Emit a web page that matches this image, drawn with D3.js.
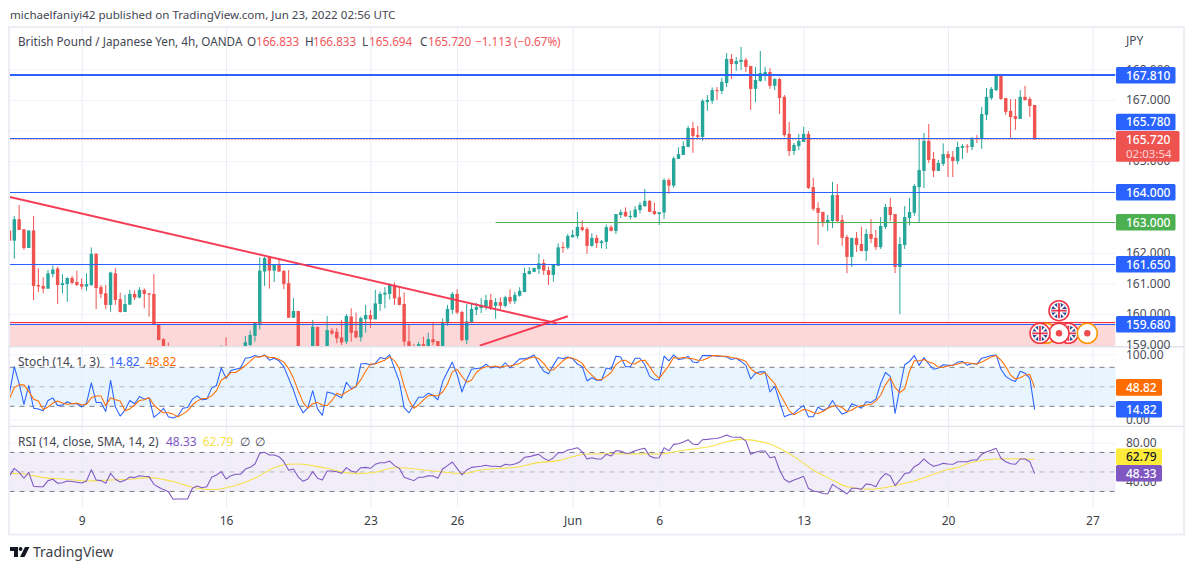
<!DOCTYPE html>
<html>
<head>
<meta charset="utf-8">
<script src="https://cdn.jsdelivr.net/npm/d3@7"></script>
<style>
  html, body { margin: 0; padding: 0; background: #fff; }
  svg { display: block; }
  text { font-family: "Noto Sans", "Liberation Sans", sans-serif; }
</style>
</head>
<body>
<svg id="chart" width="1194" height="570"></svg>
<script>
// first bar number, the bars run on from it one by one
var firstBar = -1;

var opens = [
  162.73,162.40,163.10,162.77,162.16,162.73,160.95,160.92,160.83,161.31,
  161.49,160.95,160.98,161.18,161.05,160.98,160.90,160.95,161.97,160.88,
  160.68,160.30,161.33,160.49,160.07,160.31,160.66,160.54,160.79,160.68,
  160.66,159.67,159.18,158.85,158.60,158.45,158.35,158.55,158.65,158.50,
  158.60,158.70,158.60,158.75,158.80,158.90,158.70,158.85,158.80,158.72,
  158.99,159.29,159.68,161.39,161.86,161.42,161.63,161.41,161.01,159.88,
  160.10,158.75,158.30,158.80,159.58,158.70,158.70,159.46,159.42,159.24,
  159.10,159.92,159.45,159.24,159.83,159.97,159.83,160.33,160.64,160.66,
  160.95,160.55,160.33,159.11,158.90,158.80,159.02,158.90,159.18,159.12,
  158.85,159.70,160.14,160.66,160.07,159.15,159.74,160.14,160.20,160.24,
  160.46,160.27,160.39,160.27,160.56,160.42,160.60,160.72,161.31,161.38,
  161.47,161.67,161.43,161.28,161.58,162.19,162.17,162.51,162.55,162.84,
  162.78,162.23,162.49,162.32,162.36,162.84,162.72,163.24,163.34,163.17,
  163.17,163.40,163.53,163.70,163.37,163.27,163.32,164.38,164.20,165.07,
  165.20,165.46,166.08,165.85,165.79,166.93,166.97,167.32,167.29,167.55,
  168.34,168.17,168.24,168.31,168.11,167.36,167.62,167.81,167.91,167.46,
  167.68,167.10,165.89,165.33,165.49,165.63,165.89,164.15,163.47,163.34,
  163.01,163.04,163.89,163.08,162.52,161.87,162.49,162.29,162.06,162.62,
  162.49,162.19,162.85,163.50,163.27,161.54,162.26,163.14,163.31,164.15,
  164.68,165.66,165.07,164.68,164.91,165.23,165.14,165.00,165.43,165.49,
  165.46,165.76,165.72,166.51,167.06,167.32,167.81,167.06,166.64,166.47,
  166.38,167.10,167.03,166.833
];
var highs = [
  162.73,163.21,163.57,162.78,162.75,163.21,161.50,161.20,161.44,161.59,
  161.55,161.31,161.20,161.25,161.42,161.17,161.33,162.18,161.99,160.95,
  160.95,161.39,161.50,160.70,160.63,160.79,160.77,160.88,160.84,160.68,
  161.31,159.68,159.21,159.07,158.85,158.70,158.70,158.85,158.90,158.85,
  158.85,158.90,158.85,158.90,158.99,159.24,158.90,158.92,158.92,159.29,
  159.46,159.72,161.85,161.88,161.88,161.64,161.82,161.44,161.44,160.52,
  160.10,158.90,158.90,159.81,159.59,158.90,159.94,159.54,159.54,159.81,
  160.00,160.19,160.05,159.92,160.30,160.14,160.79,160.73,160.88,161.01,
  161.03,160.90,160.71,159.65,159.03,159.09,159.26,159.39,159.72,159.12,
  159.86,160.30,160.72,160.81,160.11,160.33,160.33,160.37,160.52,160.63,
  160.66,160.52,160.55,160.60,160.81,160.73,160.88,161.51,161.53,161.51,
  161.97,161.80,161.55,161.64,162.31,162.35,162.62,162.75,163.34,163.07,
  162.84,162.64,162.59,162.42,162.93,162.91,163.27,163.42,163.49,163.38,
  163.53,163.66,164.09,163.73,163.64,163.33,164.44,164.44,165.15,165.45,
  165.65,166.15,166.28,166.15,167.02,167.16,167.41,167.42,167.72,168.53,
  168.50,168.40,168.73,168.37,168.11,168.08,168.60,168.08,168.04,167.72,
  167.72,167.16,166.28,165.59,165.89,166.12,165.98,164.45,163.66,163.34,
  163.24,164.32,164.25,163.24,162.59,162.49,162.68,162.85,162.78,163.11,
  162.75,163.17,163.60,163.80,163.27,162.52,163.53,163.80,164.25,165.72,
  165.92,166.21,165.30,165.04,165.58,165.33,165.33,165.63,165.56,165.56,
  165.79,165.85,166.77,167.39,167.42,167.83,167.85,167.06,167.03,167.03,
  167.32,167.46,167.10,166.833
];
var lows = [
  162.40,161.81,162.75,162.10,162.16,160.46,160.72,160.68,160.83,161.20,
  160.33,160.68,160.40,160.97,160.92,160.81,160.76,160.92,160.16,160.52,
  160.16,160.08,160.30,160.05,160.07,160.30,160.46,160.52,160.19,159.92,
  159.64,159.15,158.75,158.50,158.30,158.20,158.20,158.40,158.40,158.30,
  158.40,158.50,158.40,158.50,158.60,158.60,158.50,158.60,158.50,158.60,
  158.96,159.10,159.50,160.92,160.83,161.05,161.38,160.81,159.88,159.88,
  158.70,158.20,158.10,158.60,158.50,158.30,158.60,159.32,159.05,158.99,
  159.02,159.10,159.21,159.10,159.39,159.54,159.83,160.11,160.19,160.48,
  160.30,160.29,158.90,158.80,158.60,158.70,158.80,158.80,158.98,158.80,
  158.80,159.62,160.00,160.00,159.11,159.02,159.70,159.97,160.03,160.14,
  160.14,159.85,160.16,160.22,160.33,160.33,160.57,160.72,161.29,161.38,
  161.31,161.28,160.95,161.06,161.57,162.01,162.12,162.51,162.47,162.70,
  161.97,162.20,162.16,162.15,162.13,162.70,162.62,163.14,163.19,163.09,
  163.14,163.29,163.50,163.33,163.24,162.91,163.11,163.93,164.13,165.07,
  165.20,165.46,165.27,165.72,165.66,166.64,166.87,167.00,167.19,167.42,
  167.68,167.95,167.98,167.91,166.67,166.93,167.59,167.62,167.36,167.32,
  166.54,165.79,165.17,165.20,165.36,165.63,164.09,163.37,162.26,162.85,
  162.72,162.81,163.01,162.23,161.34,161.54,162.03,162.06,161.74,162.32,
  162.10,162.13,162.78,163.04,161.34,160.00,162.13,162.91,163.21,163.01,
  164.12,164.94,164.48,164.68,164.84,164.48,164.48,164.91,165.07,165.27,
  165.36,165.59,165.40,166.34,167.00,167.29,167.00,166.51,165.76,166.02,
  166.38,166.97,166.44,165.694
];
var closes = [
  162.40,163.10,162.75,162.16,162.73,160.92,160.90,160.83,161.33,161.46,
  160.95,161.01,161.18,161.02,160.95,160.90,160.98,161.97,160.85,160.66,
  160.30,161.36,160.46,160.07,160.33,160.66,160.54,160.79,160.66,160.64,
  159.67,159.15,158.80,158.60,158.45,158.35,158.55,158.65,158.50,158.60,
  158.70,158.60,158.75,158.80,158.90,158.70,158.85,158.80,158.72,159.08,
  159.32,159.72,161.42,161.83,161.42,161.61,161.39,160.98,159.88,160.10,
  158.75,158.30,158.80,159.59,158.70,158.50,159.48,159.37,159.21,159.07,
  159.94,159.39,159.24,159.87,159.97,159.83,160.35,160.66,160.70,160.98,
  160.51,160.30,159.10,158.85,158.70,159.02,158.90,159.18,159.08,158.85,
  159.72,160.17,160.66,160.05,159.15,159.76,160.17,160.23,160.30,160.46,
  160.22,160.39,160.27,160.55,160.41,160.63,160.76,161.34,161.41,161.51,
  161.66,161.42,161.28,161.62,162.18,162.17,162.55,162.59,162.85,162.75,
  162.23,162.49,162.32,162.38,162.84,162.72,163.27,163.33,163.19,163.21,
  163.42,163.57,163.70,163.34,163.27,163.33,164.38,164.20,165.09,165.23,
  165.49,166.08,165.82,165.79,166.97,167.00,167.32,167.29,167.59,168.34,
  168.17,168.27,168.31,168.08,167.36,167.65,167.88,167.91,167.46,167.68,
  167.06,165.85,165.33,165.53,165.66,165.89,164.12,163.44,163.31,163.01,
  163.08,163.89,163.04,162.49,161.87,162.49,162.26,162.06,162.62,162.46,
  162.19,162.88,163.50,163.24,161.54,162.29,163.17,163.34,164.19,164.71,
  165.66,165.04,164.68,164.94,165.23,165.10,165.00,165.46,165.49,165.46,
  165.72,165.72,166.54,167.10,167.36,167.81,167.03,166.61,166.44,166.38,
  167.10,167.00,166.80,165.72
];

var stochK = [
  40,81,55,23,52,17,16,13,29,33,21,22,27,24,24,19,25,56,26,26,
  12,60,19,5,14,29,24,35,31,33,3,9,17,4,2,5,17,18,31,36,
  30,31,48,52,79,63,75,77,79,94,95,98,96,99,91,94,90,81,63,45,
  23,10,18,44,16,6,42,40,37,33,57,47,50,85,86,84,86,95,93,99,
  78,58,18,10,22,34,34,40,37,30,58,73,88,69,42,61,77,78,79,85,
  79,81,79,87,79,86,93,93,95,99,85,74,70,83,95,93,96,93,85,81,
  59,64,60,60,79,77,97,96,81,81,94,94,84,66,61,61,97,90,99,92,
  93,97,88,87,98,98,98,97,97,96,92,94,89,83,62,71,73,73,42,51,
  27,4,7,9,16,21,4,4,19,14,17,29,17,8,11,24,21,17,27,26,
  31,55,72,66,9,48,84,89,98,83,95,85,77,79,84,83,83,88,89,83,
  86,85,94,96,98,99,77,66,61,58,74,71,63,14.82
];
var stochD = [
  32,49,53,53,43,31,28,15,19,25,28,25,23,24,25,22,23,33,36,36,
  21,33,30,28,13,16,22,29,30,33,22,15,10,10,8,4,8,13,22,28,
  32,32,36,44,60,65,72,72,77,83,89,96,96,98,95,95,92,88,78,63,
  44,26,17,24,26,22,21,29,40,37,42,46,51,61,74,85,85,88,91,96,
  90,78,51,29,17,22,30,36,37,36,42,54,73,77,66,57,60,72,78,81,
  81,82,80,82,82,84,86,91,94,96,93,86,76,76,83,90,95,94,91,86,
  75,68,61,61,66,72,84,90,91,86,85,90,91,81,70,63,73,83,95,94,
  95,94,93,91,91,94,98,98,97,97,95,94,92,89,78,72,69,72,63,55,
  40,27,13,7,11,15,14,10,9,12,17,20,21,18,12,14,19,21,22,23,
  28,37,53,64,49,41,47,74,90,90,92,88,86,80,80,82,83,85,87,87,
  86,85,88,92,96,98,91,81,68,62,64,68,69,48.82
];
var rsiLine = [
  46.2,53.7,49.6,43.5,49.6,35.3,34.9,34.9,41.1,42.5,38.4,39,40.8,40.1,39.4,38.7,40.8,52.4,41.8,41.1,
  38.4,48.6,42.5,39.7,41.4,44.8,44.2,46.2,45.5,45.2,37.3,34.3,31.9,29.8,22,22.3,22.3,22.3,33.2,35.6,
  33.9,34.9,44.5,46.9,50.3,42.8,46.2,47.6,47.6,53,54.7,58.2,69.1,70.1,67.4,67.4,65.7,60.5,51.7,53,
  44.8,40.4,42.8,50.3,43.5,41.8,51,51,50.3,48.6,54.4,51,49.6,54.4,54.7,53.7,57.8,59.5,59.5,61.2,
  56.5,53.7,44.5,42.8,41.1,44.5,44.5,46.2,45.9,43.5,53,56.5,60.2,53.7,46.9,52,54.7,55.4,55.8,56.8,
  55.8,55.8,55.4,57.8,57.1,58.2,60.2,65,65.7,67,68.1,64,61.6,64.3,69.8,69.8,72.5,73.5,74.9,70.8,
  63.3,64.6,63.3,63.3,68.1,66.3,71.8,71.5,69.1,69.4,71.8,73.2,74.2,66.3,64.3,64.6,74.9,71.8,78.3,79,
  80.7,83.1,78.6,78,83.1,83.4,84.1,84.4,85.8,87.8,85.8,85.5,85.5,81.7,68.1,70.1,71.5,71.5,64.6,65.7,
  52,42.5,39.4,41.8,43.5,45.5,33.2,30.5,29.8,27.8,27.4,37.3,33.9,30.9,27.4,33.2,33.2,32.2,37.7,37,
  34.9,43.5,48.3,46.2,36,41.8,48.3,49.3,55.4,58.2,63.3,58.8,55.8,57.1,58.8,58.2,57.8,60.5,60.5,60.5,
  62.3,62.3,68.1,70.8,72.2,74.2,64,60.5,58.5,57.8,63.3,63.3,60.5,48.33
];
// the yellow average read at a spaced set of bars
var rsiMaBars = [-1,2,6,10,15,20,24,28,33,37,41,45,50,54,57,59,62,65,69,71,75,79,80,85,89,93,97,101,105,108,113,119,124,134,139,145,148,151,157,162,166,170,173,178,183,186,190,194,195,199,204,209,212];
var rsiMaValues = [48.6,47.9,44.2,42.8,40.8,41.8,42.5,44.2,40.1,34.3,31.9,34.9,43.5,54.4,57.8,58.2,56.5,53.7,49.3,48.3,49.6,54.4,54.4,52,50,48.3,52,53.7,55.4,58.8,61.6,68.4,68.7,68.4,72.2,76.6,81,83.4,78.6,65.7,52,41.8,34.9,32.2,36,39.4,45.9,52.4,53.4,59.9,63.3,63.6,62.79];

var priceTicks = [168,167,166,165,164,163,162,161,160,159];
var axisPriceLabels = [167,165,162,161,160,159,168];
var stochTicks = [100,0];
var rsiTicks = [80,40];

var dateBars = [14,44,74,92,116,134,164,194,224];
var dateLabels = ["9","16","23","26","Jun","6","13","20","27"];

// horizontal levels drawn on the chart and the text of their tags
var levelPrices = [167.81,165.75,164,163,161.65,159.68];
var levelTexts = ["167.810","165.780","164.000","163.000","161.650","159.680"];
var levelColors = ["#2962ff","#2962ff","#2962ff","#4caf50","#2962ff","#2962ff"];
var levelWidths = [2,1,1,1,1,1];
var levelStartBars = [-1,-1,-1,100,-1,-1];

var zonePrices = [159.75,158.9];
var trendA = [[-0.9,163.83],[112.7,159.7]];
var trendB = [[96.7,158.97],[115,159.93]];

var W = 1194, H = 570;
var paneLeft = 9.5, paneRight = 1115.5;
var labelX = 1126;

var x = d3.scaleLinear().domain([-1,228.8]).range([paneLeft,paneRight]);
var yMain = d3.scaleLinear().domain([159,168]).range([344.7,69.3]);
var yStoch = d3.scaleLinear().domain([0,100]).range([419.3,354.3]);
var yRsi = d3.scaleLinear().domain([40,80]).range([481.7,442.7]);

var svg = d3.select("#chart");
var defs = svg.append("defs");
defs.append("clipPath").attr("id","clipMain").append("rect")
  .attr("x",paneLeft).attr("y",28).attr("width",paneRight-paneLeft).attr("height",318);
defs.append("clipPath").attr("id","clipStoch").append("rect")
  .attr("x",paneLeft).attr("y",348).attr("width",paneRight-paneLeft).attr("height",78);
defs.append("clipPath").attr("id","clipRsi").append("rect")
  .attr("x",paneLeft).attr("y",428).attr("width",paneRight-paneLeft).attr("height",79);

var bars = d3.range(opens.length).map(function(k) {
  return {bar: firstBar + k, o: opens[k], h: highs[k], l: lows[k], c: closes[k]};
});

// ---- grid
function styleGrid(g) {
  g.select(".domain").remove();
  g.selectAll("line").attr("stroke","#f0f3fa").attr("stroke-width",1);
}
function hGrid(scale, ticks) {
  svg.append("g").attr("transform","translate(" + paneRight + ",0)")
    .call(d3.axisLeft(scale).tickValues(ticks).tickSize(paneRight-paneLeft).tickFormat(""))
    .call(styleGrid);
}
hGrid(yMain, priceTicks);
hGrid(yStoch, stochTicks);
hGrid(yRsi, rsiTicks);

// indicator bands go under the vertical grid
function band(scale, top, bottom, fill) {
  svg.append("rect").attr("x",paneLeft).attr("width",paneRight-paneLeft)
    .attr("y",scale(top)).attr("height",scale(bottom)-scale(top)).attr("fill",fill);
}
band(yStoch,80,20,"#e9f5fe");
band(yRsi,70,30,"#f2eef9");

svg.append("g").attr("transform","translate(0,507)")
  .call(d3.axisBottom(x).tickValues(dateBars).tickSize(-479).tickFormat(""))
  .call(function(g) {
    g.select(".domain").remove();
    g.selectAll("line").attr("stroke","#ebedf3").attr("stroke-width",1);
  });

// ---- main pane
var main = svg.append("g").attr("clip-path","url(#clipMain)");

main.append("rect").attr("x",paneLeft).attr("width",paneRight-paneLeft)
  .attr("y",yMain(zonePrices[0])).attr("height",yMain(zonePrices[1])-yMain(zonePrices[0]))
  .attr("fill","#fcd8d9");

var candle = main.selectAll("g.candle").data(bars).join("g").attr("class","candle")
  .attr("fill",function(d) { return d.c >= d.o ? "#26a69a" : "#ef5350"; })
  .attr("stroke",function(d) { return d.c >= d.o ? "#26a69a" : "#ef5350"; });
candle.append("line")
  .attr("x1",function(d) { return x(d.bar); })
  .attr("x2",function(d) { return x(d.bar); })
  .attr("y1",function(d) { return yMain(d.h); })
  .attr("y2",function(d) { return yMain(d.l); })
  .attr("stroke-width",1);
candle.append("rect")
  .attr("x",function(d) { return x(d.bar) - 1.7; })
  .attr("width",3.4)
  .attr("y",function(d) { return yMain(Math.max(d.o,d.c)); })
  .attr("height",function(d) { return Math.max(1,Math.abs(yMain(d.o)-yMain(d.c))); })
  .attr("stroke","none");

// zone top edge, red, just above the blue level
main.append("line").attr("x1",paneLeft).attr("x2",paneRight)
  .attr("y1",322.5).attr("y2",322.5)
  .attr("stroke","#f23645").attr("stroke-width",1.2);

// last price dotted line
main.append("line").attr("x1",paneLeft).attr("x2",paneRight)
  .attr("y1",139.5).attr("y2",139.5)
  .attr("stroke","#ef5350").attr("stroke-width",1).attr("stroke-dasharray","1 2");

function levelY(p, width) {
  // thin lines sit on a whole pixel row
  return width === 1 ? Math.round(yMain(p)) + 0.5 : Math.round(yMain(p));
}
levelPrices.forEach(function(p,k) {
  var ly = levelY(p,levelWidths[k]);
  main.append("line").attr("x1",x(levelStartBars[k])).attr("x2",paneRight)
    .attr("y1",ly).attr("y2",ly)
    .attr("stroke",levelColors[k]).attr("stroke-width",levelWidths[k]);
});

var trendLine = d3.line().x(function(d) { return x(d[0]); }).y(function(d) { return yMain(d[1]); });
[trendA,trendB].forEach(function(t) {
  main.append("path").attr("d",trendLine(t)).attr("fill","none")
    .attr("stroke","#f5334f").attr("stroke-width",2).attr("opacity",0.95);
});

// ---- indicators
function dashed(scale, value, color) {
  svg.append("line").attr("x1",paneLeft).attr("x2",paneRight)
    .attr("y1",scale(value)).attr("y2",scale(value))
    .attr("stroke",color).attr("stroke-width",1).attr("stroke-dasharray","5 5");
}
dashed(yStoch,80,"#787b86");
dashed(yStoch,50,"#b4b6bd");
dashed(yStoch,20,"#787b86");
dashed(yRsi,70,"#787b86");
dashed(yRsi,50,"#b4b6bd");
dashed(yRsi,30,"#787b86");

function drawSeries(clip, scale, barNums, values, color, curve) {
  var line = d3.line()
    .x(function(d,k) { return x(barNums[k]); })
    .y(function(d) { return scale(d); });
  if (curve) line.curve(curve);
  svg.append("path").attr("clip-path","url(#" + clip + ")")
    .attr("d",line(values)).attr("fill","none")
    .attr("stroke",color).attr("stroke-width",1.05).attr("stroke-linejoin","round");
}
var allBars = bars.map(function(d) { return d.bar; });
drawSeries("clipStoch",yStoch,allBars,stochK,"#2962ff");
drawSeries("clipStoch",yStoch,allBars,stochD,"#ff6d00");
drawSeries("clipRsi",yRsi,rsiMaBars,rsiMaValues,"#f7e14b",d3.curveMonotoneX);
drawSeries("clipRsi",yRsi,allBars,rsiLine,"#7e57c2");

// ---- frame
svg.append("rect").attr("x",9).attr("y",27).attr("width",1175).attr("height",507.5)
  .attr("fill","none").attr("stroke","#eceef4").attr("stroke-width",2);
svg.append("line").attr("x1",9).attr("x2",1184).attr("y1",346.7).attr("y2",346.7)
  .attr("stroke","#e0e3eb").attr("stroke-width",1.6);
svg.append("line").attr("x1",9).attr("x2",1184).attr("y1",426.3).attr("y2",426.3)
  .attr("stroke","#e0e3eb").attr("stroke-width",1.2);

// ---- event markers
function flagMark(cx, cy) {
  var g = svg.append("g").attr("transform","translate(" + cx + "," + cy + ")");
  g.append("circle").attr("r",10).attr("fill","#fff").attr("stroke","#f23645").attr("stroke-width",1.6);
  g.append("circle").attr("r",7.6).attr("fill","#2a4a94");
  var clipId = "f" + Math.round(cx) + "_" + Math.round(cy);
  defs.append("clipPath").attr("id",clipId).append("circle").attr("r",7.6);
  var f = g.append("g").attr("clip-path","url(#" + clipId + ")");
  f.append("path").attr("d","M-8,-8L8,8M8,-8L-8,8").attr("stroke","#fff").attr("stroke-width",2);
  f.append("path").attr("d","M-8,0H8M0,-8V8").attr("stroke","#fff").attr("stroke-width",3.6);
  f.append("path").attr("d","M-8,0H8M0,-8V8").attr("stroke","#e8344a").attr("stroke-width",1.8);
}
function dotMark(cx, cy, ring) {
  var g = svg.append("g").attr("transform","translate(" + cx + "," + cy + ")");
  g.append("circle").attr("r",10).attr("fill","#fff").attr("stroke",ring).attr("stroke-width",1.6);
  g.append("circle").attr("r",3.2).attr("fill","#ef4a50");
}
dotMark(1046,333.3,"#ff9800");
flagMark(1068.3,333.3);
dotMark(1059,333.3,"#f23645");
flagMark(1040,333.3);
dotMark(1087.3,333.3,"#ff9800");
flagMark(1059,310.7);

// ---- axis text
function axisText(g) {
  g.select(".domain").remove();
  g.selectAll("line").remove();
  g.selectAll("text").attr("x",labelX - 1140).attr("text-anchor","start")
    .attr("fill","#4a4d57").style("font-size","12px").style("font-family",null);
}
function priceAxis(scale, ticks, digits) {
  svg.append("g").attr("transform","translate(1140,0)")
    .call(d3.axisRight(scale).tickValues(ticks).tickSize(0).tickFormat(d3.format("." + digits + "f")))
    .call(axisText);
}
priceAxis(yMain,axisPriceLabels,3);
priceAxis(yStoch,stochTicks,2);
priceAxis(yRsi,rsiTicks,2);

svg.append("text").attr("x",labelX).attr("y",45).attr("fill","#4a4d57").attr("font-size",12).text("JPY");

svg.append("g").attr("transform","translate(0,507)")
  .call(d3.axisBottom(x).tickValues(dateBars).tickSize(0).tickPadding(9)
    .tickFormat(function(d,k) { return dateLabels[k]; }))
  .call(function(g) {
    g.select(".domain").remove();
    g.selectAll("text").attr("fill","#3c3f48").style("font-size","12px").style("font-family",null);
  });

// ---- value tags
function tag(top, height, width, fill, text, textFill) {
  svg.append("rect").attr("x",paneRight+0.5).attr("y",top).attr("width",width).attr("height",height)
    .attr("rx",1.5).attr("fill",fill);
  svg.append("text").attr("x",labelX).attr("y",top + height/2 + 4.3).attr("fill",textFill)
    .attr("font-size",12).attr("font-weight",500).text(text);
}
levelPrices.forEach(function(p,k) {
  // the 165.780 tag sits pushed up above the last price tag
  var cy = k === 1 ? Math.round(yMain(p)) - 16 : Math.round(yMain(p)) + 0.3;
  tag(cy - 8.3,16.6,59.5,levelColors[k],levelTexts[k],"#fff");
});
svg.append("rect").attr("x",paneRight+0.5).attr("y",131).attr("width",63.5).attr("height",30.7)
  .attr("rx",1.5).attr("fill","#ef5350");
svg.append("text").attr("x",labelX).attr("y",144).attr("fill","#fff").attr("font-size",12).attr("font-weight",500).text("165.720");
svg.append("text").attr("x",labelX).attr("y",158).attr("fill","#fbd5d5").attr("font-size",11.5).text("02:03:54");

tag(379.1,16.6,46,"#ff6d00","48.82","#fff");
tag(401,16.6,46,"#2962ff","14.82","#fff");
tag(448.4,16.6,46,"#ffeb3b","62.79","#131722");
tag(465,16.6,46,"#7e57c2","48.33","#fff");

// ---- legends and titles
function label(xPos, yPos, text, color, size) {
  svg.append("text").attr("x",xPos).attr("y",yPos).attr("fill",color).attr("font-size",size || 12).text(text);
}
label(10,19,"michaelfaniyi42 published on TradingView.com, Jun 23, 2022 02:56 UTC","#434651",11.6);
label(18,46,"British Pound / Japanese Yen, 4h, OANDA","#434651",11.7);
var red = "#f0565a";
label(247,46,"O","#434651",11.7); label(256,46,"166.833",red,11.7);
label(305,46,"H","#434651",11.7); label(313,46,"166.833",red,11.7);
label(362,46,"L","#434651",11.7); label(369,46,"165.694",red,11.7);
label(420,46,"C","#434651",11.7); label(428,46,"165.720",red,11.7);
label(475,46,"\u22121.113",red,11.7); label(514,46,"(\u22120.67%)",red,11.7);

label(18,366,"Stoch (14, 1, 3)","#434651");
label(109,366,"14.82","#2962ff"); label(145.7,366,"48.82","#ff6d00");
label(18,446,"RSI (14, close, SMA, 14, 2)","#434651",11.9);
label(166,446,"48.33","#7e57c2"); label(202.7,446,"62.79","#f7e14b");
label(240,446,"\u2205","#434651"); label(255,446,"\u2205","#434651");

// footer logo
var logo = svg.append("g").attr("transform","translate(10,547)").attr("fill","#131722");
logo.append("path").attr("d","M0,0H8V10H4V4H0Z");
logo.append("circle").attr("cx",10.6).attr("cy",2).attr("r",1.9);
logo.append("path").attr("d","M15,0H19.5L14.5,10H10Z");
label(33,557,"TradingView","#3c3f48",14);
</script>
</body>
</html>
